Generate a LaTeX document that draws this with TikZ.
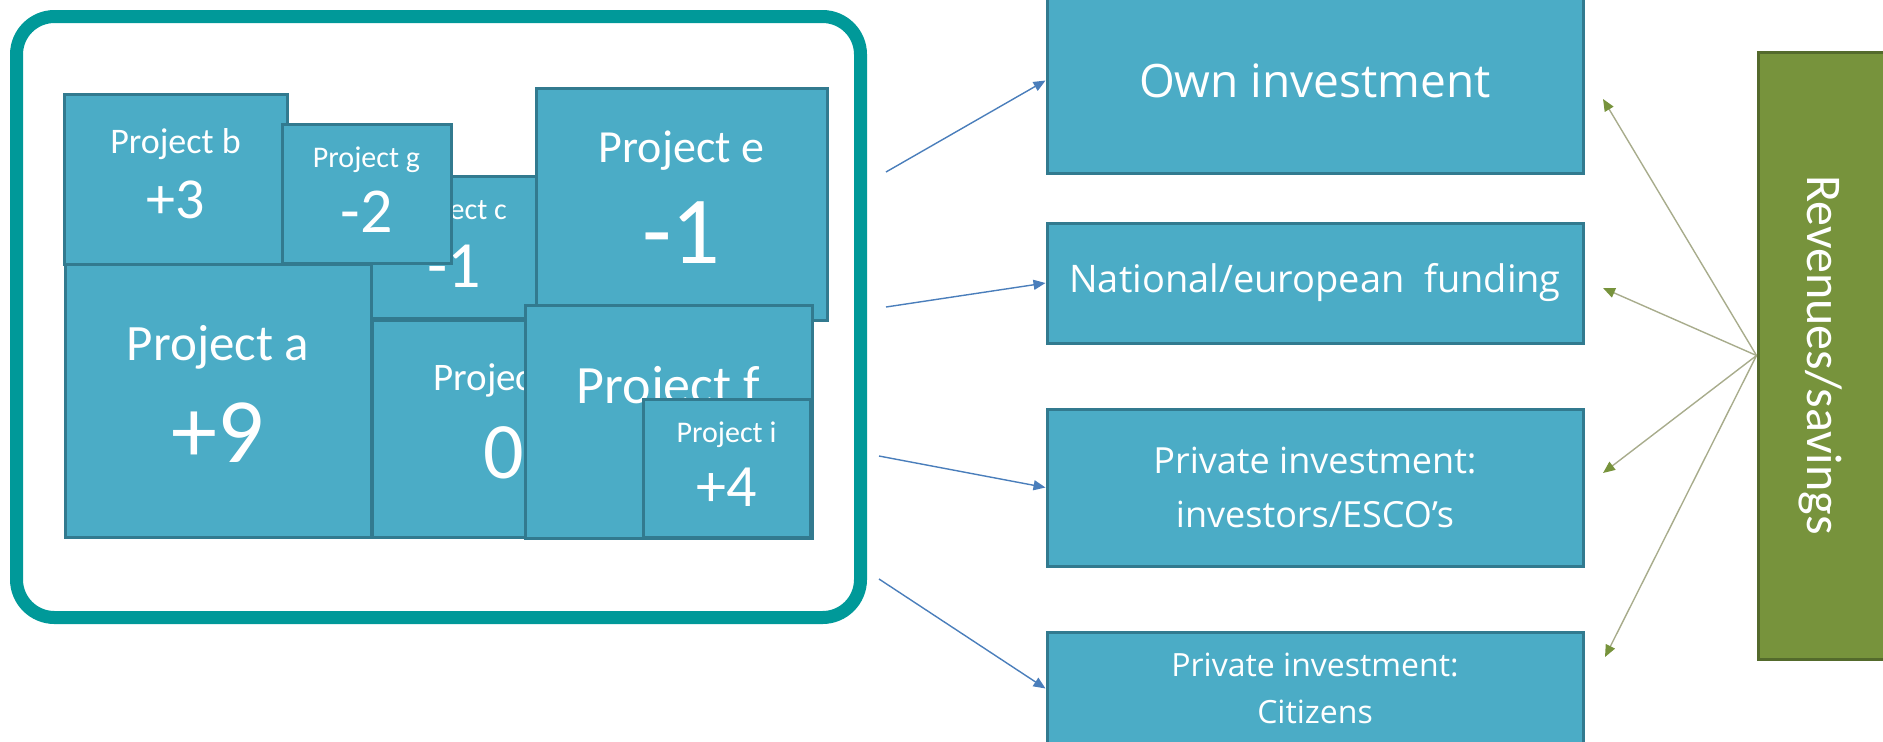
\documentclass[tikz,border=0pt]{standalone}
\usepackage{fontspec}
\setmainfont{Carlito}
\newfontfamily\opensans{Open Sans}
\usetikzlibrary{arrows.meta}
\definecolor{projFill}{RGB}{75,172,198}
\definecolor{projDraw}{RGB}{50,122,143}
\definecolor{frameTeal}{RGB}{0,153,153}
\definecolor{revFill}{RGB}{119,147,60}
\definecolor{revDraw}{RGB}{84,106,44}
\definecolor{arrowBlue}{RGB}{74,126,187}
\definecolor{arrowGreen}{RGB}{168,172,140}
\newcommand{\fsz}[2]{\fontsize{#1pt}{#2pt}\selectfont}
\begin{document}
\begin{tikzpicture}[x=0.5pt,y=-0.5pt]
        \tikzstyle{projectBox}=[draw=projDraw,fill=projFill,line width=1.5pt,inner sep=0pt]
        \tikzstyle{projectText}=[text=white,inner sep=0pt]
        \tikzstyle{fundBox}=[draw=projDraw,fill=projFill,line width=1.5pt,text=white,align=center,minimum width=268pt]
        \tikzstyle{fundFlow}=[-{Triangle[length=6pt,width=5pt]}, arrowBlue, line width=0.7pt]
        \tikzstyle{returnFlow}=[-{Triangle[length=6pt,width=5pt,color=revFill,fill=revFill]}, arrowGreen, line width=0.7pt]
    \useasboundingbox (0,0) rectangle (1883,741);
    \node[draw=frameTeal,line width=6.5pt,rounded corners=19pt,minimum width=422pt,minimum height=300.5pt] (frame) at (438.5,317) {};

    \node[projectBox, minimum width=153pt, minimum height=136.5pt] (a) at (218,400.5) {};
    \node[projectText, font=\fsz{25.5}{30}] (aName) at (218,347) {Project a};
    \node[projectText, font=\fsz{46}{55}] (aVal) at (218,433) {+9};
    \node[projectBox, minimum width=83pt, minimum height=71pt] (c) at (454,247.5) {};
    \node[projectText, font=\fsz{15}{18}] (cName) at (454,212) {Project c};
    \node[projectText, font=\fsz{33}{40}] (cVal) at (454,266) {-1};
    \node[projectBox, minimum width=111.5pt, minimum height=85pt] (b) at (175.5,179) {};
    \node[projectText, font=\fsz{18}{22}] (bName) at (175.5,144) {Project b};
    \node[projectText, font=\fsz{29}{35}] (bVal) at (175.5,200) {+3};
    \node[projectBox, minimum width=84.5pt, minimum height=69.5pt] (g) at (366.5,193.5) {};
    \node[projectText, font=\fsz{15}{18}] (gName) at (366.5,160) {Project g};
    \node[projectText, font=\fsz{32}{38}] (gVal) at (366.5,212) {-2};
    \node[projectBox, minimum width=145.5pt, minimum height=116pt] (e) at (681.5,204) {};
    \node[projectText, font=\fsz{23}{28}] (eName) at (681.5,151) {Project e};
    \node[projectText, font=\fsz{48}{58}] (eVal) at (681.5,233) {-1};
    \node[projectBox, minimum width=132pt, minimum height=108.5pt] (d) at (504,428.5) {};
    \node[projectText, font=\fsz{19.5}{24}] (dName) at (504,380) {Project d};
    \node[projectText, font=\fsz{40}{48}] (dVal) at (504,453) {0};
    \node[projectBox, minimum width=143.5pt, minimum height=116.5pt] (f) at (668.5,421.5) {};
    \node[projectText, font=\fsz{27}{32}] (fName) at (668.5,390) {Project f};
    \node[projectBox, minimum width=83.5pt, minimum height=69pt] (i) at (726.5,468) {};
    \node[projectText, font=\fsz{15}{18}] (iName) at (726.5,435) {Project i};
    \node[projectText, font=\fsz{30}{36}] (iVal) at (726.5,487) {+4};

    \node[fundBox, minimum height=92.5pt, font=\opensans\fsz{23}{28}] (own) at (1315,80.5) {Own investment};
    \node[fundBox, minimum height=60pt, font=\opensans\fsz{19}{23}] (nat) at (1315,283) {National/european\ \ funding};
    \node[fundBox, minimum height=78.5pt, font=\opensans\fsz{18}{27}] (esco) at (1315,487.5) {Private investment:\\investors/ESCO’s};
    \node[fundBox, minimum height=56.5pt, font=\opensans\fsz{16}{23.5}] (cit) at (1315,688.5) {Private investment:\\Citizens};

    \node[draw=revDraw, fill=revFill, line width=1.5pt, minimum width=66pt, minimum height=303.5pt] (rev) at (1824,355.5) {};
    \node[text=white, rotate=-90, font=\fsz{25}{30}] (revText) at (1821,355) {Revenues/savings};

    \coordinate (s1) at (886,172);
    \coordinate (s2) at (886,307);
    \coordinate (s3) at (879,456);
    \coordinate (s4) at (879,579);
    \draw[fundFlow] (s1) -- (own.west);
    \draw[fundFlow] (s2) -- (nat.west);
    \draw[fundFlow] (s3) -- (esco.west);
    \draw[fundFlow] (s4) -- (cit.west);

    \coordinate (r1) at (1603,99);
    \coordinate (r2) at (1603,288);
    \coordinate (r3) at (1603,473);
    \coordinate (r4) at (1605,657);
    \draw[returnFlow] (rev.west) -- (r1);
    \draw[returnFlow] (rev.west) -- (r2);
    \draw[returnFlow] (rev.west) -- (r3);
    \draw[returnFlow] (rev.west) -- (r4);
\end{tikzpicture}
\end{document}
